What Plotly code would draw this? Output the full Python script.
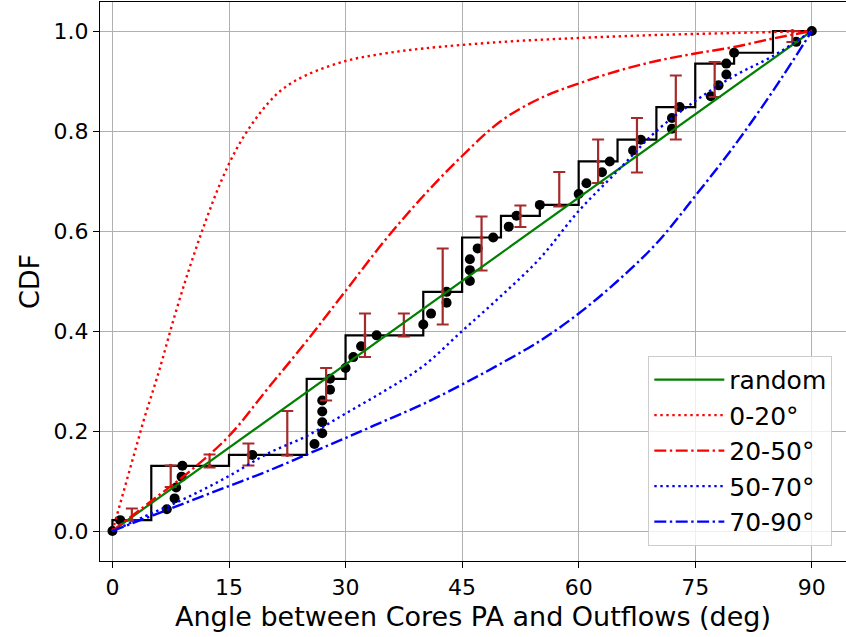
import numpy as np
import plotly.graph_objects as go

# ---- data ----
step_edges = [0, 5, 15, 25, 30, 40, 45, 50, 55, 60, 65, 70, 75, 80, 85, 90]
step_counts = [0, 1, 6, 7, 14, 18, 22, 27, 29, 30, 34, 36, 39, 43, 44, 46]
n_total = 46

dot_angles = [0, 1, 7, 8, 8.2, 8.9, 9, 18, 26, 27, 27, 27, 27, 28, 28, 30, 31, 32, 34,
              40, 41, 43, 43, 46, 46, 46, 47, 49, 51, 52, 55, 60, 61, 63, 64, 67, 68,
              72, 72, 73, 77, 78, 79, 79, 80, 88, 90]

err_x = [2.5, 7.5, 12.5, 17.5, 22.5, 27.5, 32.5, 37.5, 42.5, 47.5, 52.5, 57.5,
         62.5, 67.5, 72.5, 77.5, 87.5]
err_center = [0.0217, 0.1304, 0.1304, 0.1522, 0.1522, 0.3043, 0.3913, 0.3913, 0.4783,
              0.5870, 0.6304, 0.6522, 0.7391, 0.7826, 0.8478, 0.9348, 1.0]
err_lo = [0.021, 0.088, 0.127, 0.131, 0.151, 0.261, 0.348, 0.389, 0.413, 0.521, 0.608,
          0.649, 0.696, 0.717, 0.783, 0.868, 0.978]
err_hi = [0.045, 0.131, 0.153, 0.175, 0.240, 0.326, 0.435, 0.435, 0.565, 0.629, 0.651,
          0.718, 0.783, 0.826, 0.911, 0.938, 1.0]

random_x = [0, 90]
random_y = [0, 1]

m020_x = [0, 1, 2, 3, 4, 5, 6, 8, 10, 12, 14, 16, 18, 20, 22, 25, 30, 35, 40, 50, 60, 70, 80, 90]
m020_y = [0, 0.055, 0.11, 0.165, 0.22, 0.27, 0.32, 0.43, 0.53, 0.62, 0.70, 0.765, 0.815, 0.855,
          0.885, 0.912, 0.94, 0.955, 0.965, 0.978, 0.986, 0.992, 0.996, 1.0]

m2050_x = [0, 5, 10, 15, 20, 25, 30, 35, 40, 45, 50, 55, 60, 65, 70, 75, 80, 85, 90]
m2050_y = [0, 0.06, 0.12, 0.19, 0.285, 0.38, 0.48, 0.58, 0.67, 0.75, 0.82, 0.865, 0.895,
           0.92, 0.94, 0.955, 0.968, 0.985, 1.0]

m5070_x = [0, 5, 10, 15, 20, 25, 30, 35, 40, 45, 50, 55, 60, 65, 70, 75, 80, 85, 90]
m5070_y = [0, 0.035, 0.07, 0.11, 0.155, 0.19, 0.235, 0.28, 0.33, 0.40, 0.47, 0.545, 0.64,
           0.72, 0.80, 0.86, 0.91, 0.95, 1.0]

m7090_x = [0, 5, 10, 15, 20, 25, 30, 35, 40, 45, 50, 55, 60, 65, 70, 75, 80, 85, 90]
m7090_y = [0, 0.03, 0.06, 0.09, 0.12, 0.153, 0.186, 0.22, 0.254, 0.293, 0.335, 0.38, 0.435,
           0.50, 0.575, 0.67, 0.77, 0.88, 1.0]

x_ticks = [0, 15, 30, 45, 60, 75, 90]
y_ticks = [0.0, 0.2, 0.4, 0.6, 0.8, 1.0]

# ---- figure ----
FONT = "DejaVu Sans"
fig = go.Figure()

step_y = [c / n_total for c in step_counts]
fig.add_trace(go.Scatter(x=step_edges, y=step_y, mode="lines", line_shape="vh",
                         line=dict(color="black", width=2.2), showlegend=False, hoverinfo="skip"))

dot_y = [k / n_total for k in range(len(dot_angles))]
fig.add_trace(go.Scatter(x=dot_angles, y=dot_y, mode="markers",
                         marker=dict(color="black", size=10), showlegend=False))

plus = [max(h - c, 0) for h, c in zip(err_hi, err_center)]
minus = [max(c - l, 0) for l, c in zip(err_lo, err_center)]
fig.add_trace(go.Scatter(x=err_x, y=err_center, mode="markers",
                         marker=dict(color="#A52A2A", size=4),
                         error_y=dict(type="data", symmetric=False, array=plus, arrayminus=minus,
                                      color="#A52A2A", thickness=2.2, width=6),
                         showlegend=False))

fig.add_trace(go.Scatter(x=random_x, y=random_y, mode="lines", name="random",
                         line=dict(color="green", width=2.2)))
fig.add_trace(go.Scatter(x=m020_x, y=m020_y, mode="lines", name="0-20°", line_shape="spline",
                         line=dict(color="red", width=2.4, dash="2.4px,3.6px")))
fig.add_trace(go.Scatter(x=m2050_x, y=m2050_y, mode="lines", name="20-50°", line_shape="spline",
                         line=dict(color="red", width=2.4, dash="12px,3.5px,2.4px,3.5px")))
fig.add_trace(go.Scatter(x=m5070_x, y=m5070_y, mode="lines", name="50-70°", line_shape="spline",
                         line=dict(color="blue", width=2.4, dash="2.4px,3.6px")))
fig.add_trace(go.Scatter(x=m7090_x, y=m7090_y, mode="lines", name="70-90°", line_shape="spline",
                         line=dict(color="blue", width=2.4, dash="12px,3.5px,2.4px,3.5px")))

axis_common = dict(showline=True, mirror=True, linecolor="black", linewidth=1.3,
                   showgrid=True, gridcolor="#b0b0b0", gridwidth=1.2,
                   ticks="outside", ticklen=6, tickwidth=1.3, tickcolor="black",
                   zeroline=False, tickfont=dict(family=FONT, size=22, color="black"))

fig.update_xaxes(range=[-1.6, 94.4], tickvals=x_ticks, ticktext=[str(v) for v in x_ticks],
                 title=dict(text="Angle between Cores PA and Outflows (deg)",
                            font=dict(family=FONT, size=27, color="black"), standoff=8),
                 automargin=False, **axis_common)
fig.update_yaxes(range=[-0.06, 1.058], tickvals=y_ticks, ticktext=[f"{v:.1f}" for v in y_ticks],
                 title=dict(text="CDF", font=dict(family=FONT, size=27, color="black"), standoff=6),
                 automargin=False, **axis_common)

fig.update_layout(
    width=846, height=637,
    margin=dict(l=100, r=0, t=2, b=76),
    plot_bgcolor="white", paper_bgcolor="white",
    font=dict(family=FONT, color="black"),
    legend=dict(x=0.735, y=0.027, xanchor="left", yanchor="bottom",
                bgcolor="rgba(255,255,255,0.8)", bordercolor="#cccccc", borderwidth=1,
                font=dict(family=FONT, size=25, color="black"), itemwidth=70,
                tracegroupgap=0),
)

fig.write_html("out.html")
